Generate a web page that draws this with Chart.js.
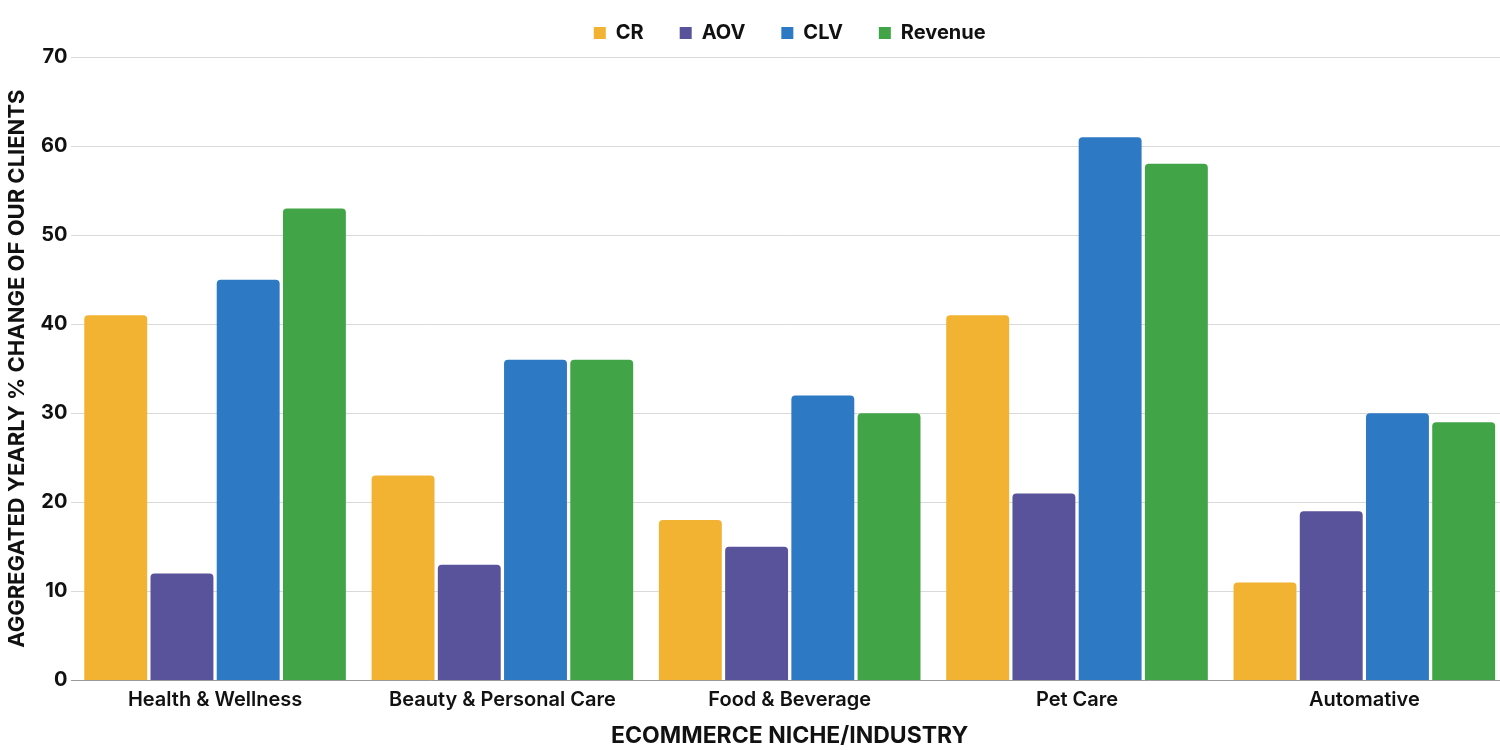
<!DOCTYPE html>
<html>
<head>
<meta charset="utf-8">
<script src="https://cdn.jsdelivr.net/npm/chart.js@4.4.1/dist/chart.umd.min.js"></script>
<style>
  html, body { margin: 0; padding: 0; background: #ffffff; overflow: hidden; }
  #wrap { width: 1508px; height: 750px; position: relative; }
</style>
</head>
<body>
<div id="wrap"><canvas id="chart"></canvas></div>
<script>
// Datos del gráfico
const categories = ['Health & Wellness', 'Beauty & Personal Care', 'Food & Beverage', 'Pet Care', 'Automative'];
const crValues = [41, 23, 18, 41, 11];
const aovValues = [12, 13, 15, 21, 19];
const clvValues = [45, 36, 32, 61, 30];
const revenueValues = [53, 36, 30, 58, 29];

const FONT = "'Inter', 'Noto Sans', sans-serif";
const COLORS = {
  cr: '#F2B232',
  aov: '#58539A',
  clv: '#2E79C3',
  revenue: '#41A548'
};

function makeSet(label, data, color) {
  return {
    label: label,
    data: data,
    backgroundColor: color,
    borderRadius: { topLeft: 4, topRight: 4 },
    borderSkipped: 'start',
    categoryPercentage: 0.922,
    barPercentage: 0.95
  };
}

// Ajusta la altura de la leyenda para acercarla al área del gráfico
const legendFit = {
  id: 'legendFit',
  beforeInit(chart) {
    const fit = chart.legend.fit;
    chart.legend.fit = function () {
      fit.bind(chart.legend)();
      this.height += 4;
    };
  }
};

const ctx = document.getElementById('chart').getContext('2d');
new Chart(ctx, {
  type: 'bar',
  data: {
    labels: categories,
    datasets: [
      makeSet('CR', crValues, COLORS.cr),
      makeSet('AOV', aovValues, COLORS.aov),
      makeSet('CLV', clvValues, COLORS.clv),
      makeSet('Revenue', revenueValues, COLORS.revenue)
    ]
  },
  plugins: [legendFit],
  options: {
    responsive: true,
    maintainAspectRatio: false,
    animation: false,
    layout: { padding: { top: -13, right: 0, bottom: 0, left: 4 } },
    plugins: {
      legend: {
        position: 'top',
        fullSize: false,
        labels: {
          usePointStyle: true,
          pointStyle: 'rect',
          boxWidth: 12,
          boxHeight: 12,
          padding: 36,
          color: '#111111',
          font: { family: FONT, size: 20, weight: '700' }
        }
      },
      tooltip: { enabled: false }
    },
    scales: {
      x: {
        grid: { display: false },
        border: { color: '#9a9a9a' },
        ticks: {
          color: '#111111',
          padding: 0,
          font: { family: FONT, size: 20, weight: '600' }
        },
        title: {
          display: true,
          text: 'ECOMMERCE NICHE/INDUSTRY',
          color: '#111111',
          padding: { top: 10, bottom: 0 },
          font: { family: FONT, size: 23, weight: '700' }
        }
      },
      y: {
        min: 0,
        max: 70,
        ticks: {
          stepSize: 10,
          color: '#111111',
          padding: 4,
          font: { family: FONT, size: 20, weight: '700' }
        },
        grid: { color: '#d9d9d9', drawTicks: false },
        border: { display: false },
        title: {
          display: true,
          text: 'AGGREGATED YEARLY % CHANGE OF OUR CLIENTS',
          color: '#111111',
          padding: { top: 0, bottom: 6 },
          font: { family: FONT, size: 22, weight: '700' }
        }
      }
    }
  }
});
</script>
</body>
</html>
